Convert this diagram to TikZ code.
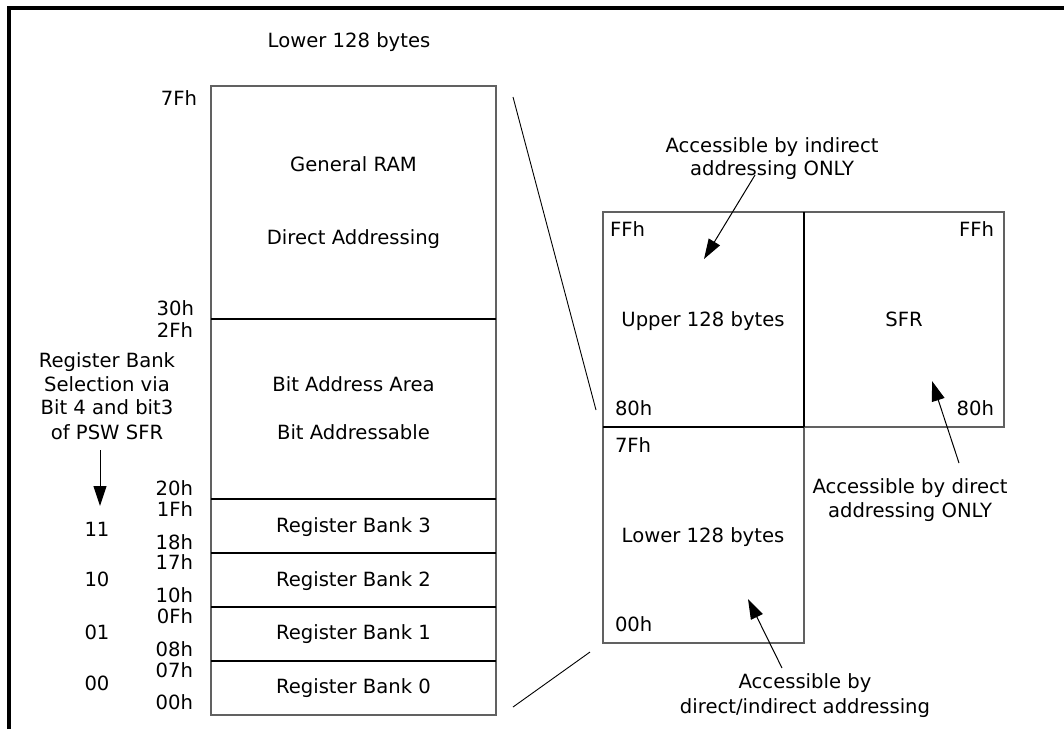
\documentclass[tikz,border=0pt]{standalone}
\usepackage{fontspec}
\setmainfont{DejaVu Sans}
\usetikzlibrary{arrows.meta}
\tikzset{
  txt/.style={inner sep=0pt, outer sep=0pt, anchor=base, font=\fontsize{19.6}{24}\selectfont},
  lab/.style={txt, anchor=base east},
  labl/.style={txt, anchor=base west},
  region/.style={draw=black!62, line width=1.2pt, inner sep=0pt, outer sep=0pt, anchor=north west},
  divider/.style={draw=black, line width=1.2pt},
  zoomline/.style={draw=black, line width=0.9pt},
  pointer/.style={draw=black, line width=1pt, -{Triangle[length=20pt,width=13pt]}},
  frame/.style={draw=black, line width=4.2pt, line join=miter}
}
\begin{document}
\begin{tikzpicture}[x=1pt,y=-1pt]
\useasboundingbox (0,0) rectangle (1064,729);
\fill[white] (0,0) rectangle (1064,729);
% outer frame (left and top)
\coordinate (fbl) at (9.2,729);
\coordinate (ftl) at (9.2,7.9);
\coordinate (ftr) at (1064,7.9);
\draw[frame] (fbl) -- (ftl) -- (ftr);

% ---------- left column: lower 128 bytes ----------
\node[txt] (title) at (349,47) {Lower 128 bytes};
\node[region, minimum width=285pt, minimum height=233pt] (ram) at (211,86) {};
\node[region, minimum width=285pt, minimum height=180pt] (bit) at (211,319) {};
\node[region, minimum width=285pt, minimum height=54pt] (rb3) at (211,499) {};
\node[region, minimum width=285pt, minimum height=54pt] (rb2) at (211,553) {};
\node[region, minimum width=285pt, minimum height=54pt] (rb1) at (211,607) {};
\node[region, minimum width=285pt, minimum height=54pt] (rb0) at (211,661) {};
\draw[divider] (ram.south west) -- (ram.south east);
\draw[divider] (bit.south west) -- (bit.south east);
\draw[divider] (rb3.south west) -- (rb3.south east);
\draw[divider] (rb2.south west) -- (rb2.south east);
\draw[divider] (rb1.south west) -- (rb1.south east);

\node[txt] (t1) at (353.5,171) {General RAM};
\node[txt] (t2) at (353.5,244) {Direct Addressing};
\node[txt] (t3) at (353.5,391) {Bit Address Area};
\node[txt] (t4) at (353.5,439) {Bit Addressable};
\node[txt] (t5) at (353.5,532) {Register Bank 3};
\node[txt] (t6) at (353.5,586) {Register Bank 2};
\node[txt] (t7) at (353.5,639) {Register Bank 1};
\node[txt] (t8) at (353.5,693) {Register Bank 0};

% address labels
\node[lab] (a7f) at (197,105) {7Fh};
\node[lab] (a30) at (194,315) {30h};
\node[lab] (a2f) at (193,337) {2Fh};
\node[lab] (a20) at (193,495) {20h};
\node[lab] (a1f) at (193,516) {1Fh};
\node[lab] (a18) at (193,549) {18h};
\node[lab] (a17) at (193,569) {17h};
\node[lab] (a10) at (193,602) {10h};
\node[lab] (a0f) at (193,623) {0Fh};
\node[lab] (a08) at (193,656) {08h};
\node[lab] (a07) at (193,677) {07h};
\node[lab] (a00) at (193,709) {00h};

% bank selection
\node[txt] (s1) at (107,367) {Register Bank};
\node[txt] (s2) at (107,391) {Selection via};
\node[txt] (s3) at (107,414) {Bit 4 and bit3};
\node[txt] (s4) at (107,439) {of PSW SFR};
\coordinate (selS) at (100,450);
\coordinate (selE) at (100,506);
\draw[pointer] (selS) -- (selE);
\node[txt] (b11) at (97,536) {11};
\node[txt] (b10) at (97,586) {10};
\node[txt] (b01) at (97,639) {01};
\node[txt] (b00) at (97,690) {00};

% zoom lines
\coordinate (z1a) at (513,97);
\coordinate (z1b) at (596,410);
\coordinate (z2a) at (513,707);
\coordinate (z2b) at (590,652);
\draw[zoomline] (z1a) -- (z1b);
\draw[zoomline] (z2a) -- (z2b);

% ---------- right: full map ----------
\node[region, minimum width=201pt, minimum height=215pt] (upper) at (603,212) {};
\node[region, minimum width=200pt, minimum height=215pt] (sfr) at (804,212) {};
\node[region, minimum width=201pt, minimum height=216pt] (lower) at (603,427) {};
\draw[divider] (upper.north east) -- (upper.south east);
\draw[divider] (upper.south west) -- (upper.south east);

\node[labl] (uff) at (610,236) {FFh};
\node[labl] (u80) at (615,415) {80h};
\node[lab] (sff) at (994,236) {FFh};
\node[lab] (s80) at (994,415) {80h};
\node[labl] (l7f) at (615,452) {7Fh};
\node[labl] (l00) at (615,631) {00h};
\node[txt] (tup) at (703,326) {Upper 128 bytes};
\node[txt] (tsfr) at (904,326) {SFR};
\node[txt] (tlow) at (703,542) {Lower 128 bytes};

% annotations
\node[txt] (n1a) at (772,152) {Accessible by indirect};
\node[txt] (n1b) at (772,175) {addressing ONLY};
\coordinate (p1s) at (755,175);
\coordinate (p1e) at (704,259);
\draw[pointer] (p1s) -- (p1e);

\node[txt] (n2a) at (910,493) {Accessible by direct};
\node[txt] (n2b) at (910,517) {addressing ONLY};
\coordinate (p2s) at (959,463);
\coordinate (p2e) at (932,381);
\draw[pointer] (p2s) -- (p2e);

\node[txt] (n3a) at (805,688) {Accessible by};
\node[txt] (n3b) at (805,713) {direct/indirect addressing};
\coordinate (p3s) at (782,668);
\coordinate (p3e) at (748,599);
\draw[pointer] (p3s) -- (p3e);
\end{tikzpicture}
\end{document}
